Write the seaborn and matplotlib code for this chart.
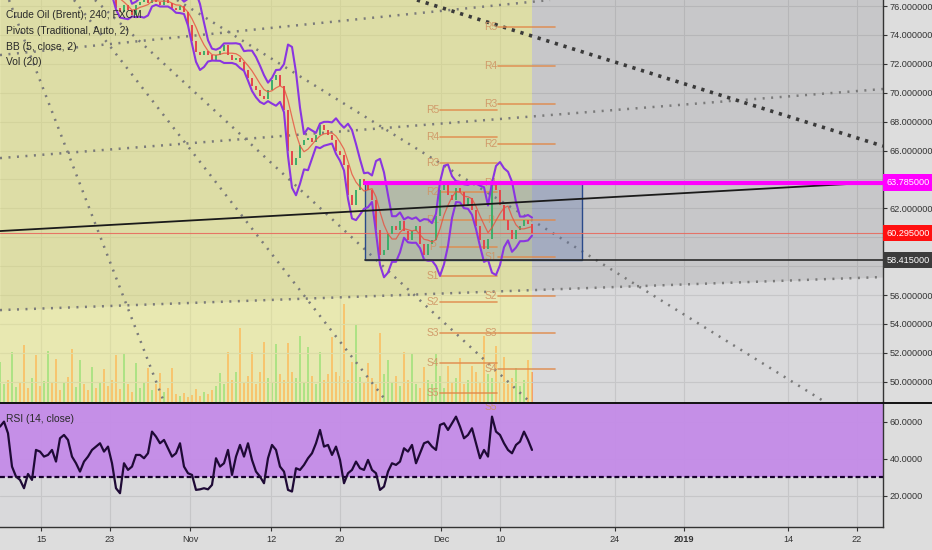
import numpy as np
import pandas as pd
import seaborn as sns
import matplotlib.pyplot as plt
import matplotlib.transforms as mtransforms
from matplotlib.lines import Line2D
from matplotlib.patches import Rectangle

sns.set_theme(style="ticks")
plt.rcParams['font.family'] = ['Liberation Sans', 'DejaVu Sans']

# 4h closes, one per bar (bars before index 29 sit above the visible range)
close = [79.4, 79.6, 79.2, 79.8, 80.0, 79.5, 79.1, 78.8, 79.0, 78.6, 78.4, 78.7, 78.9, 78.5, 78.2,
         78.0, 78.3, 78.1, 77.8, 77.9, 78.2, 77.9, 77.6, 77.7, 77.4, 77.5, 77.2, 77.0, 76.9,
         75.85, 75.6, 76.05, 75.7, 75.4, 76.1, 76.3, 76.5, 76.2, 76.6, 76.3, 76.1, 76.5, 76.2,
         75.9, 75.7, 76.0, 75.6, 74.7, 73.6, 72.8, 72.6, 72.9, 72.6, 72.3, 72.6, 72.9, 73.3,
         72.6, 72.3, 72.4, 72.1, 71.6, 71.0, 70.5, 70.2, 69.8, 69.6, 70.2, 70.9, 71.2, 70.5,
         68.8, 66.0, 65.0, 65.5, 66.4, 66.7, 66.9, 66.6, 67.1, 67.8, 67.4, 67.1, 66.7, 66.0,
         65.7, 65.0, 62.9, 62.2, 63.3, 64.0, 63.6, 63.3, 62.6, 60.5, 58.8, 59.1, 60.2, 60.8,
         60.5, 61.1, 60.4, 59.8, 60.4, 60.8, 59.5, 58.8, 59.5, 59.8, 61.5, 63.3, 63.6, 62.9,
         62.6, 63.4, 63.1, 62.2, 62.7, 61.9, 60.8, 59.8, 59.2, 59.9, 63.6, 63.3, 62.2, 61.2,
         60.5, 59.9, 60.5, 60.8, 61.2, 60.9, 60.3]

volume = [40, 18, 22, 50, 15, 20, 57, 14, 24, 47, 16, 21, 51, 19, 43, 12, 20, 25, 53, 15,
          42, 18, 12, 35, 14, 20, 33, 16, 22, 47, 13, 48, 18, 10, 39, 14, 20, 34, 12, 18,
          29, 10, 14, 34, 8, 6, 9, 5, 7, 13, 6, 10, 8, 12, 16, 29, 18, 50, 22, 30,
          74, 20, 26, 50, 18, 30, 60, 24, 20, 58, 28, 22, 59, 30, 24, 66, 20, 55, 26, 18,
          50, 22, 28, 65, 30, 26, 98, 22, 40, 78, 25, 20, 39, 24, 18, 69, 28, 42, 20, 26,
          16, 50, 22, 49, 18, 14, 35, 22, 18, 48, 26, 14, 36, 20, 24, 44, 18, 22, 36, 30,
          20, 66, 28, 24, 56, 20, 45, 18, 24, 34, 16, 22, 42, 30]

rsi = [57.5, 60.2, 53.9, 35.9, 30.5, 28.7, 24.2, 31.9, 28.7, 44.9, 44.0, 41.3, 42.2, 44.9,
       38.6, 51.2, 53.0, 50.3, 41.3, 37.7, 33.2, 38.6, 41.3, 44.9, 46.7, 48.5, 44.0, 46.7,
       37.7, 24.2, 21.5, 37.7, 34.1, 35.9, 42.2, 42.2, 40.4, 43.1, 54.8, 52.1, 48.5, 50.3,
       45.8, 41.3, 43.1, 48.5, 35.9, 32.3, 31.4, 23.3, 23.6, 24.2, 23.6, 26.0, 40.4, 35.9,
       37.7, 44.9, 31.4, 41.3, 47.6, 41.3, 48.5, 39.5, 33.2, 30.5, 26.9, 40.4, 47.6, 44.9,
       35.9, 33.2, 23.3, 22.4, 35.0, 34.1, 36.8, 40.4, 43.1, 48.5, 55.7, 46.7, 47.6, 42.2,
       46.7, 39.5, 26.9, 32.3, 34.1, 38.6, 35.0, 34.1, 39.5, 34.1, 32.3, 23.3, 25.1, 33.2,
       37.7, 36.8, 38.6, 45.8, 44.0, 47.6, 37.7, 43.1, 48.5, 49.4, 46.7, 44.9, 58.4, 59.3,
       55.7, 59.3, 62.9, 57.5, 51.2, 53.0, 56.6, 48.5, 40.4, 44.9, 41.3, 62.9, 54.8, 53.0,
       48.5, 44.9, 43.1, 47.6, 49.4, 54.8, 50.3, 44.9]

pivot_names = ["R5", "R4", "R3", "R2", "R1", "P", "S1", "S2", "S3", "S4", "S5"]
pivots_a = [68.80, 66.93, 65.13, 63.13, 61.19, 59.32, 57.31, 55.52, 53.37, 51.29, 49.22]
pivots_b = [74.55, 71.85, 69.22, 66.45, 63.75, 61.19, 58.63, 55.93, 53.37, 50.88, 48.25]
span_a = (110.0, 124.25)
span_b = (124.5, 138.75)

# drawing anchors ((x0, y0), (x1, y1)) in bar / price units
fan_lines = [((0, 72.61), (137.5, 76.42)),
             ((0, 65.48), (220.75, 70.26)),
             ((0, 54.96), (220.75, 57.25)),
             ((2.25, 76.42), (41, 48.6)),
             ((18.5, 76.42), (96.75, 48.6)),
             ((23.75, 76.42), (132.5, 48.6)),
             ((44.25, 76.42), (206.25, 48.6))]
channel_low = ((0, 54.96), (220.75, 57.25))
heavy_line = ((104.25, 76.42), (220.75, 66.31))
trend_line = ((0, 60.43), (220.75, 63.82))

last_price = 60.295
range_top = 63.785
range_bottom = 58.415
range_x = (91.25, 145.5)
yellow_x = (0, 133)

price_ticks = [50, 52, 54, 56, 62, 66, 68, 70, 72, 74, 76]
x_ticks = [10.25, 27.5, 47.5, 67.75, 85, 110.25, 125, 153.75, 171, 197, 214.25]
x_labels = ["15", "23", "Nov", "12", "20", "Dec", "10", "24", "2019", "14", "22"]

XMAX = 220.75
PMIN, PMAX = 48.6, 76.42
BG = '#d9d9db'

df = pd.DataFrame({'close': close, 'volume': volume, 'rsi': rsi})
df['bar'] = np.arange(len(df))
df['open'] = df['close'].shift(1).fillna(df['close'])
df['basis'] = df['close'].rolling(5).mean()
dev = df['close'].rolling(5).std(ddof=0)
df['upper'] = df['basis'] + 2 * dev
df['lower'] = df['basis'] - 2 * dev
up = df['close'] >= df['open']

fig = plt.figure(figsize=(9.32, 5.5), dpi=100, facecolor='#dddddd')
rect_main = [0, 1 - 402 / 550, 883 / 932, 402 / 550]

# volume pane underneath the price pane
vax = fig.add_axes(rect_main, facecolor=BG)
vax.set_zorder(0)
vax.bar(df['bar'], df['volume'], width=0.5,
        color=np.where(up, '#6fd08a', '#f59a62'), alpha=0.9, linewidth=0)
vax.set_xlim(0, XMAX)
vax.set_ylim(0, 402)
vax.set_xticks([])
vax.set_yticks([])
for s in vax.spines.values():
    s.set_visible(False)

ax = fig.add_axes(rect_main)
ax.set_zorder(1)
ax.patch.set_visible(False)
ax.set_xlim(0, XMAX)
ax.set_ylim(PMIN, PMAX)
ax.set_axisbelow(True)
ax.grid(True, color='#c6c6c8', lw=0.8)

# shaded drawings
cx = [channel_low[0][0], channel_low[1][0]]
cy = [channel_low[0][1], channel_low[1][1]]
ax.fill_between(cx, cy, 80, color='black', alpha=0.08, lw=0, zorder=1)
ax.axvspan(*yellow_x, color=(1, 1, 0.45), alpha=0.4, lw=0, zorder=1)

for (x0, y0), (x1, y1) in fan_lines:
    ax.plot([x0, x1], [y0, y1], color='#7a7a7a', lw=1.8, ls=(0, (0.8, 2.6)), zorder=2)
ax.plot([heavy_line[0][0], heavy_line[1][0]], [heavy_line[0][1], heavy_line[1][1]],
        color='#3a3a3a', lw=2.6, ls=(0, (0.9, 1.6)), zorder=2)

ax.add_patch(Rectangle((range_x[0], range_bottom), range_x[1] - range_x[0],
                       range_top - range_bottom, facecolor=(0.36, 0.45, 0.68), alpha=0.32,
                       edgecolor='none', zorder=2))
ax.add_patch(Rectangle((range_x[0], range_bottom), range_x[1] - range_x[0],
                       range_top - range_bottom, facecolor='none', edgecolor='#2a4a8a',
                       lw=1.0, zorder=2))

ax.axhline(last_price, color='#e86a5e', lw=0.8, alpha=0.9, zorder=2)

# pivots
for vals, (xa, xb) in [(pivots_a, span_a), (pivots_b, span_b)]:
    for name, v in zip(pivot_names, vals):
        ax.plot([xa, xb], [v, v], color='#e08a4c', lw=1.2, alpha=0.85, zorder=2)
        ax.text(xa - 1.8, v, name, color='#cf9464', fontsize=7.4, ha='center', va='center',
                alpha=0.9, zorder=2)

# candles + Bollinger bands
ax.bar(df['bar'], df['close'] - df['open'], bottom=df['open'], width=0.55,
       color=np.where(up, '#3fae6a', '#e5484d'), linewidth=0, zorder=3)
sns.lineplot(data=df, x='bar', y='basis', ax=ax, color='#e8503f', lw=0.9, alpha=0.8, zorder=3)
sns.lineplot(data=df, x='bar', y='upper', ax=ax, color='#8a35e0', lw=1.5, zorder=4)
sns.lineplot(data=df, x='bar', y='lower', ax=ax, color='#8a35e0', lw=1.5, zorder=4)

ax.plot([trend_line[0][0], trend_line[1][0]], [trend_line[0][1], trend_line[1][1]],
        color='#1a1a1a', lw=1.3, zorder=5)
ax.plot([range_x[0], XMAX], [range_top, range_top], color='#ff00ff', lw=3, zorder=5)
ax.plot([range_x[0], XMAX], [range_bottom, range_bottom], color='#2b2b2b', lw=1.2, zorder=5)

ax.set_xlabel('')
ax.set_ylabel('')
ax.set_xticks(x_ticks)
ax.tick_params(axis='x', length=0, labelbottom=False)
ax.yaxis.tick_right()
ax.set_yticks(price_ticks)
ax.set_yticklabels([f'{v:.6f}' for v in price_ticks])
ax.set_yticks([58, 60, 64], minor=True)
ax.tick_params(axis='y', which='both', direction='out', length=3, width=0.8, pad=2,
               labelsize=6.6, colors='#333333')
ax.grid(True, which='minor', axis='y', color='#c6c6c8', lw=0.8)
for k in ['left', 'top', 'bottom']:
    ax.spines[k].set_visible(False)
ax.spines['right'].set_color('#333333')
ax.spines['right'].set_linewidth(1.0)

trans = mtransforms.blended_transform_factory(ax.transAxes, ax.transData)
for v, fc in [(range_top, '#ff00ff'), (last_price, '#ff1010'), (range_bottom, '#3c3c3c')]:
    ax.text(1.0045, v, f'{v:.6f}', transform=trans, color='white', fontsize=6.6,
            ha='left', va='center', clip_on=False, zorder=10,
            bbox=dict(boxstyle='square,pad=0.4', fc=fc, ec='none'))

legend_lines = ["Crude Oil (Brent), 240, FXCM", "Pivots (Traditional, Auto, 2)",
                "BB (5, close, 2)", "Vol (20)"]
for j, t in enumerate(legend_lines):
    ax.text(0.007, 0.962 - j * 0.039, t, transform=ax.transAxes, fontsize=7.4,
            color='#2a2a2a', ha='left', va='center', zorder=10)

# RSI pane
rax = fig.add_axes([0, 23 / 550, 883 / 932, 125 / 550], facecolor=BG)
rax.set_xlim(0, XMAX)
rax.set_ylim(3.24, 70.81)
rax.set_axisbelow(True)
rax.grid(True, color='#c6c6c8', lw=0.8)
rax.axhspan(30, 70, color='#c48be8', lw=0, alpha=0.95, zorder=1)
rax.axhline(30, color='#16002c', lw=1.6, ls=(0, (2.2, 1.3)), zorder=2)
sns.lineplot(data=df, x='bar', y='rsi', ax=rax, color='#1f0a36', lw=1.6, zorder=3)
rax.set_xlabel('')
rax.set_ylabel('')
rax.text(0.007, 0.86, "RSI (14, close)", transform=rax.transAxes, fontsize=7.4,
         color='#2a2a2a', ha='left', va='center')
rax.yaxis.tick_right()
rax.set_yticks([20, 40, 60])
rax.set_yticklabels(['20.0000', '40.0000', '60.0000'])
rax.tick_params(axis='y', direction='out', length=3, width=0.8, pad=2, labelsize=6.6,
                colors='#333333')
rax.set_xticks(x_ticks)
rax.set_xticklabels(x_labels)
rax.tick_params(axis='x', direction='out', length=3, width=0.8, pad=3, labelsize=6.6,
                colors='#333333')
for lab in rax.get_xticklabels():
    if lab.get_text() == '2019':
        lab.set_fontweight('bold')
for k in ['left', 'top']:
    rax.spines[k].set_visible(False)
for k in ['right', 'bottom']:
    rax.spines[k].set_color('#333333')
    rax.spines[k].set_linewidth(1.0)

fig.add_artist(Line2D([0, 1], [1 - 402.5 / 550] * 2, color='#111111', lw=1.4,
                      transform=fig.transFigure))

fig.savefig('out.png', dpi=100, facecolor=fig.get_facecolor())
